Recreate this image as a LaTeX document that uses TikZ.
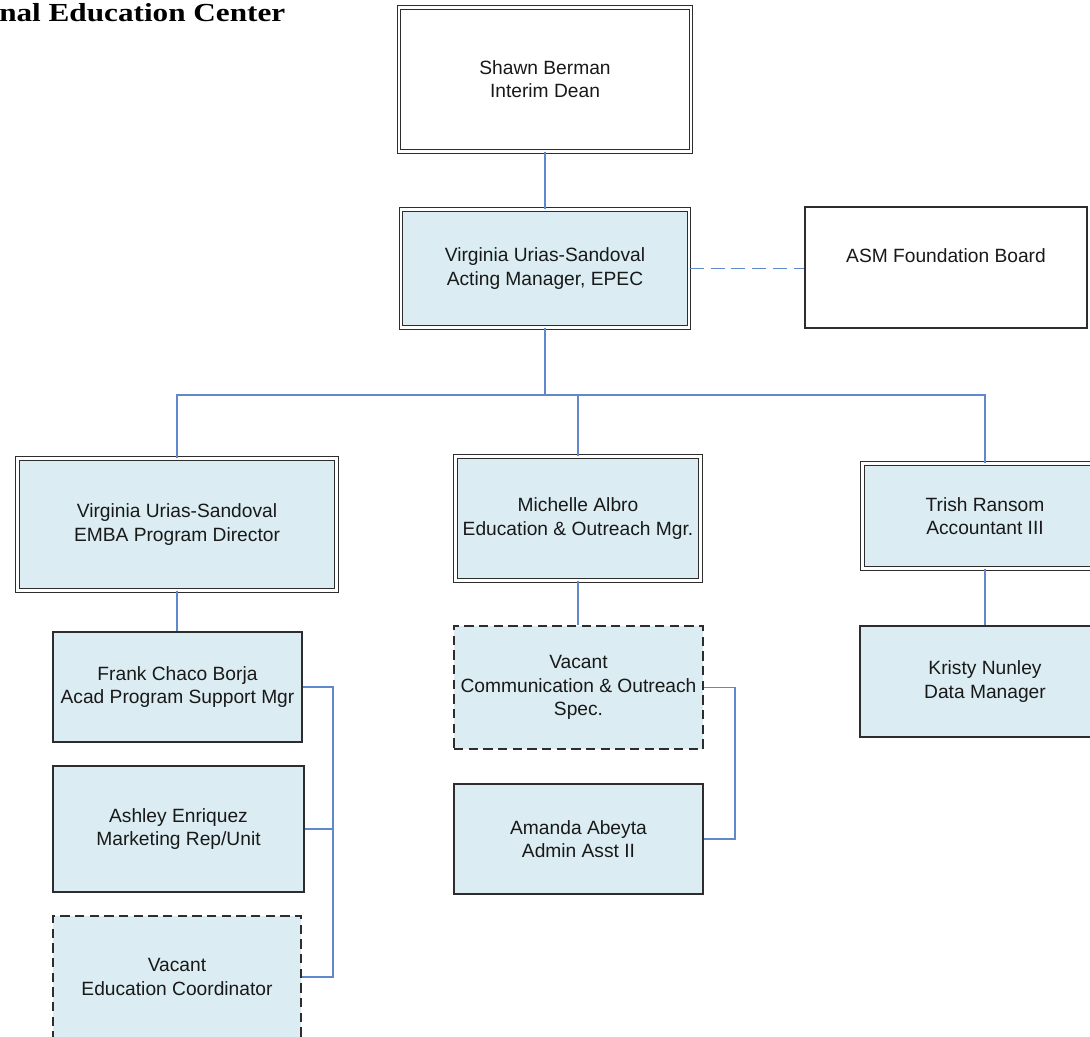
\documentclass[tikz,border=0pt]{standalone}
\usepackage{fontspec}
\usepackage{graphicx}
\setmainfont{Liberation Sans}
\newfontfamily\headfont{Liberation Serif}
\definecolor{boxfill}{RGB}{219,237,243}
\definecolor{boxline}{RGB}{45,45,45}
\definecolor{linkblue}{RGB}{96,137,204}
\tikzset{sz/.style 2 args={minimum width=#1*0.75pt,minimum height=#2*0.75pt}}
\begin{document}
\begin{tikzpicture}[x=0.75pt,y=-0.75pt,
 box/.style={draw=boxline,line width=1.1pt,fill=boxfill,align=center,inner sep=1pt,
   text=black!90,font=\fontsize{14.4}{17.4}\selectfont},
 boss/.style={box,double=white,double distance=1.9pt,line width=0.9pt},
 vacant/.style={box,dash pattern=on 7pt off 4pt},
 link/.style={linkblue,line width=1.15pt}]
 \useasboundingbox (0,0) rectangle (1090,1037);
 \clip (0,0) rectangle (1090,1037);
 \node[anchor=base west,inner sep=0,font=\headfont\bfseries\fontsize{19.5}{23}\selectfont] (title) at (-1,21.5) {\scalebox{1.2}[1]{nal Education Center}};
 \node[boss,fill=white,sz={292}{144}] (dean) at (545,79.5) {Shawn Berman\\Interim Dean};
 \node[boss,sz={288}{118}] (mgr) at (545,268.5) {Virginia Urias-Sandoval\\Acting Manager, EPEC};
 \node[box,fill=white,sz={282}{121}] (asm) at (946,267.5) {ASM Foundation Board\\\mbox{}};
 \node[boss,sz={319}{132}] (emba) at (177,524.5) {Virginia Urias-Sandoval\\EMBA Program Director};
 \node[boss,sz={245}{124}] (mich) at (578,518.5) {Michelle Albro\\Education \& Outreach Mgr.};
 \node[boss,sz={245}{105}] (trish) at (985,516) {Trish Ransom\\Accountant III};
 \node[box,sz={249}{110}] (frank) at (177.5,687) {Frank Chaco Borja\\Acad Program Support Mgr};
 \node[box,sz={251}{126}] (ashley) at (178.5,829) {Ashley Enriquez\\Marketing Rep/Unit};
 \node[vacant,sz={248}{122}] (vedu) at (177,977) {Vacant\\Education Coordinator};
 \node[vacant,sz={249}{123}] (vcomm) at (578.5,687.5) {Vacant\\Communication \& Outreach\\Spec.};
 \node[box,sz={249}{110}] (amanda) at (578.5,839) {Amanda Abeyta\\Admin Asst II};
 \node[box,sz={250}{111}] (kristy) at (985,681.5) {Kristy Nunley\\Data Manager};
 \coordinate (bus) at (545,395);
 \coordinate (lbar) at (333,0);
 \coordinate (mbar) at (735,0);
 \draw[link] (dean) -- (mgr);
 \draw[link,line width=1.4pt,dash pattern=on 10.5pt off 5.2pt] (mgr.east) -- (mgr.east -| asm.west);
 \draw[link] (mgr.south) -- (bus);
 \draw[link] (emba.north) |- (bus) -| (trish.north);
 \draw[link] (mich.north) -- (mich.north |- bus);
 \draw[link] (emba.south) -- (emba.south |- frank.north);
 \draw[link] (mich.south) -- (mich.south |- vcomm.north);
 \draw[link] (trish.south) -- (kristy.north);
 \draw[link] (frank.east) -- (frank.east -| lbar) -- (vedu.east -| lbar) -- (vedu.east);
 \draw[link] (ashley.east) -- (ashley.east -| lbar);
 \draw[link] (vcomm.east) -- (vcomm.east -| mbar) |- (amanda.east);
\end{tikzpicture}
\end{document}
